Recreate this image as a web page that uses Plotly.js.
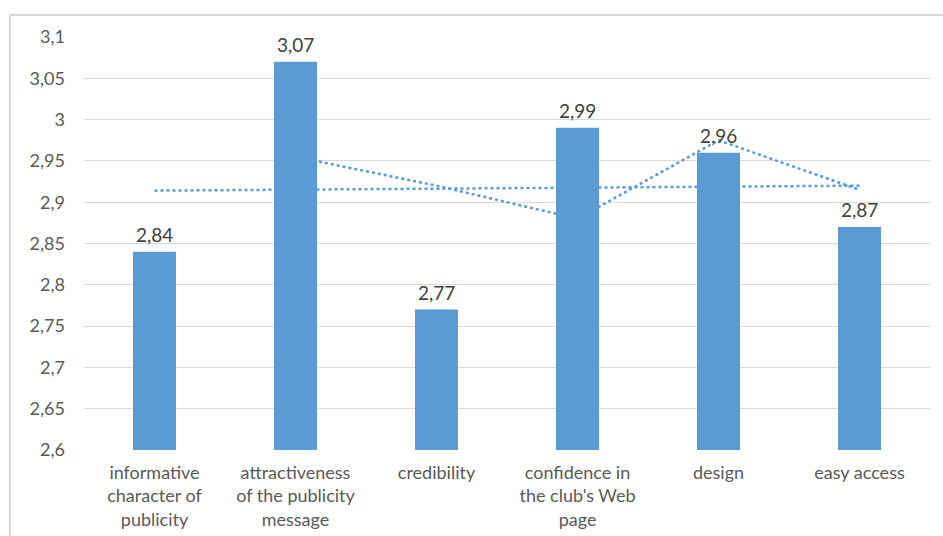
<!DOCTYPE html>
<html><head><meta charset="utf-8">
<script src="https://cdn.plot.ly/plotly-3.0.1.min.js"></script>
<style>
html,body{margin:0;padding:0;background:#fff;overflow:hidden}
#wrap{position:relative;width:943px;height:536px}
#chart{width:943px;height:536px}
#frame{position:absolute;left:9px;top:14px;width:1000px;height:600px;border:2px solid #d9d9d9;pointer-events:none;box-sizing:border-box}
</style></head>
<body><div id="wrap"><div id="chart"></div><div id="frame"></div></div>
<script>
const categories = [
  "informative<br>character of<br>publicity",
  "attractiveness<br>of the publicity<br>message",
  "credibility",
  "confidence in<br>the club's Web<br>page",
  "design",
  "easy access"
];
const values = [2.84, 3.07, 2.77, 2.99, 2.96, 2.87];
const trendCats = [categories[0], categories[5]];
const trendValues = [2.914, 2.920];
const movAvgCats = categories.slice(1);
const movAvgValues = [2.955, 2.92, 2.88, 2.975, 2.915];
const yTickVals = [2.6, 2.65, 2.7, 2.75, 2.8, 2.85, 2.9, 2.95, 3, 3.05, 3.1];
const yTickText = ["2,6","2,65","2,7","2,75","2,8","2,85","2,9","2,95","3","3,05","3,1"];

const blue = '#5b9bd5';
const fontFam = 'Lato, "Open Sans", sans-serif';

const data = [
  {type:'scatter', mode:'lines', x:trendCats, y:trendValues,
   line:{color:blue, width:2.5, dash:'dot'}, hoverinfo:'skip', showlegend:false},
  {type:'scatter', mode:'lines', x:movAvgCats, y:movAvgValues,
   line:{color:blue, width:2.5, dash:'dot'}, hoverinfo:'skip', showlegend:false},
  {type:'bar', x:categories, base:2.6, y:values.map(v=>v-2.6),
   marker:{color:blue}, showlegend:false}
];

const annotations = categories.map((c,i)=>({
  x:c, y:values[i], xref:'x', yref:'y', text:String(values[i]).replace('.', ','),
  showarrow:false, yanchor:'bottom', yshift:4,
  font:{family:fontFam, size:19, color:'#404040'}
}));

const layout = {
  width:943, height:536,
  margin:{l:84, r:13, t:37, b:86},
  paper_bgcolor:'#fff', plot_bgcolor:'#fff',
  bargap:0.695,
  font:{family:fontFam, size:18, color:'#595959'},
  xaxis:{type:'category', categoryorder:'array', categoryarray:categories,
    showgrid:false, showline:false, zeroline:false, ticks:'',
    tickfont:{family:fontFam, size:18, color:'#595959'}, ticklabelstandoff:10},
  yaxis:{range:[2.6,3.1], tickvals:yTickVals, ticktext:yTickText,
    showgrid:true, gridcolor:'#d9d9d9', gridwidth:1, zeroline:false, showline:false,
    ticks:'', ticklabelstandoff:18,
    tickfont:{family:fontFam, size:18, color:'#595959'}},
  annotations:annotations
};
Plotly.newPlot('chart', data, layout, {staticPlot:true});
</script></body></html>
